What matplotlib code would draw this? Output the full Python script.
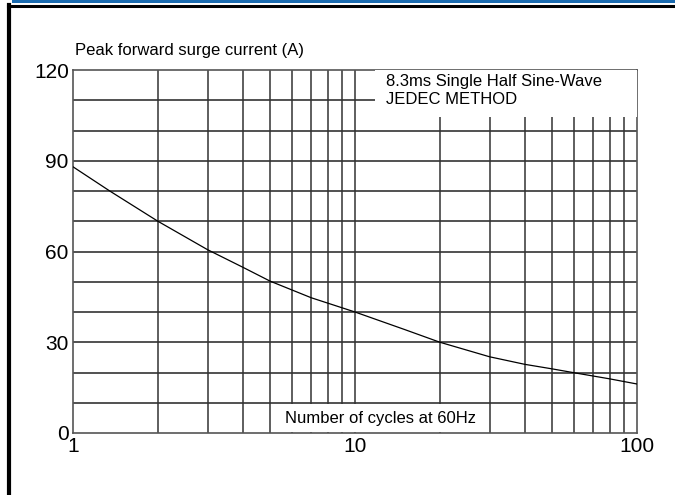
import matplotlib
matplotlib.use("Agg")
import matplotlib.pyplot as plt
from matplotlib.patches import Rectangle
from matplotlib.lines import Line2D

plt.rcParams['font.family'] = ['Liberation Sans', 'DejaVu Sans']

# surge current vs number of cycles
cycles = [1, 1.35, 2, 3, 4, 5, 7, 10, 15, 20, 30, 40, 50, 60, 80, 100]
current = [88, 80, 70, 60.6, 54.8, 50.2, 44.7, 40, 34.2, 30, 25.2, 22.7, 21.2, 19.9, 17.9, 16.2]

y_ticks = [0, 30, 60, 90, 120]
x_ticks = [1, 10, 100]
x_labels = ["1", "10", "100"]

fig = plt.figure(figsize=(6.75, 4.95), dpi=100)
ax = fig.add_axes([73/675, 62/495, 564/675, 363/495])

ax.plot(cycles, current, color='black', lw=0.9, zorder=5)
ax.set_xscale('log')
ax.set_xlim(1, 100)
ax.set_ylim(0, 120)

# grid: every 10 on y, decade minors on x
for v in range(10, 120, 10):
    ax.axhline(v, color='#222222', lw=1.1, zorder=1)
for d in (1, 10):
    for m in range(2, 10):
        ax.axvline(d * m, color='#333333', lw=1.1, zorder=1)
ax.axvline(10, color='#333333', lw=1.1, zorder=1)

ax.set_yticks(y_ticks)
ax.set_xticks(x_ticks)
ax.set_xticklabels(x_labels)
ax.minorticks_off()
ax.tick_params(length=0, labelsize=15, pad=3)
ax.tick_params(axis='x', pad=3)
for s in ax.spines.values():
    s.set_color('#555555')
    s.set_linewidth(1.2)

# white boxes behind the annotations
ax.add_patch(Rectangle((11.8, 104.5), 100 - 11.8, 15.5, facecolor='white',
                       edgecolor='none', zorder=3))
ax.add_patch(Rectangle((5.05, 0.4), 30 - 5.1, 9.3, facecolor='white',
                       edgecolor='none', zorder=3))
ax.text(12.9, 118.6, "8.3ms Single Half Sine-Wave\nJEDEC METHOD", fontsize=12,
        va='top', ha='left', linespacing=1.25, zorder=4)
ax.text(12.3, 2.2, "Number of cycles at 60Hz", fontsize=12,
        ha='center', va='bottom', zorder=4)

fig.text(75/675, 1 - 55/495, "Peak forward surge current (A)", fontsize=12,
         ha='left', va='baseline')

# page frame
fig.add_artist(Rectangle((12/675, 1 - 3/495), 1, 3/495, transform=fig.transFigure,
                         facecolor='#1a6bb0', edgecolor='none'))
fig.add_artist(Line2D([8/675, 1], [1 - 6/495, 1 - 6/495], transform=fig.transFigure,
                      color='black', lw=2.2))
fig.add_artist(Line2D([9/675, 9/675], [0, 1 - 5/495], transform=fig.transFigure,
                      color='black', lw=3))

fig.savefig("out.png", dpi=100)
